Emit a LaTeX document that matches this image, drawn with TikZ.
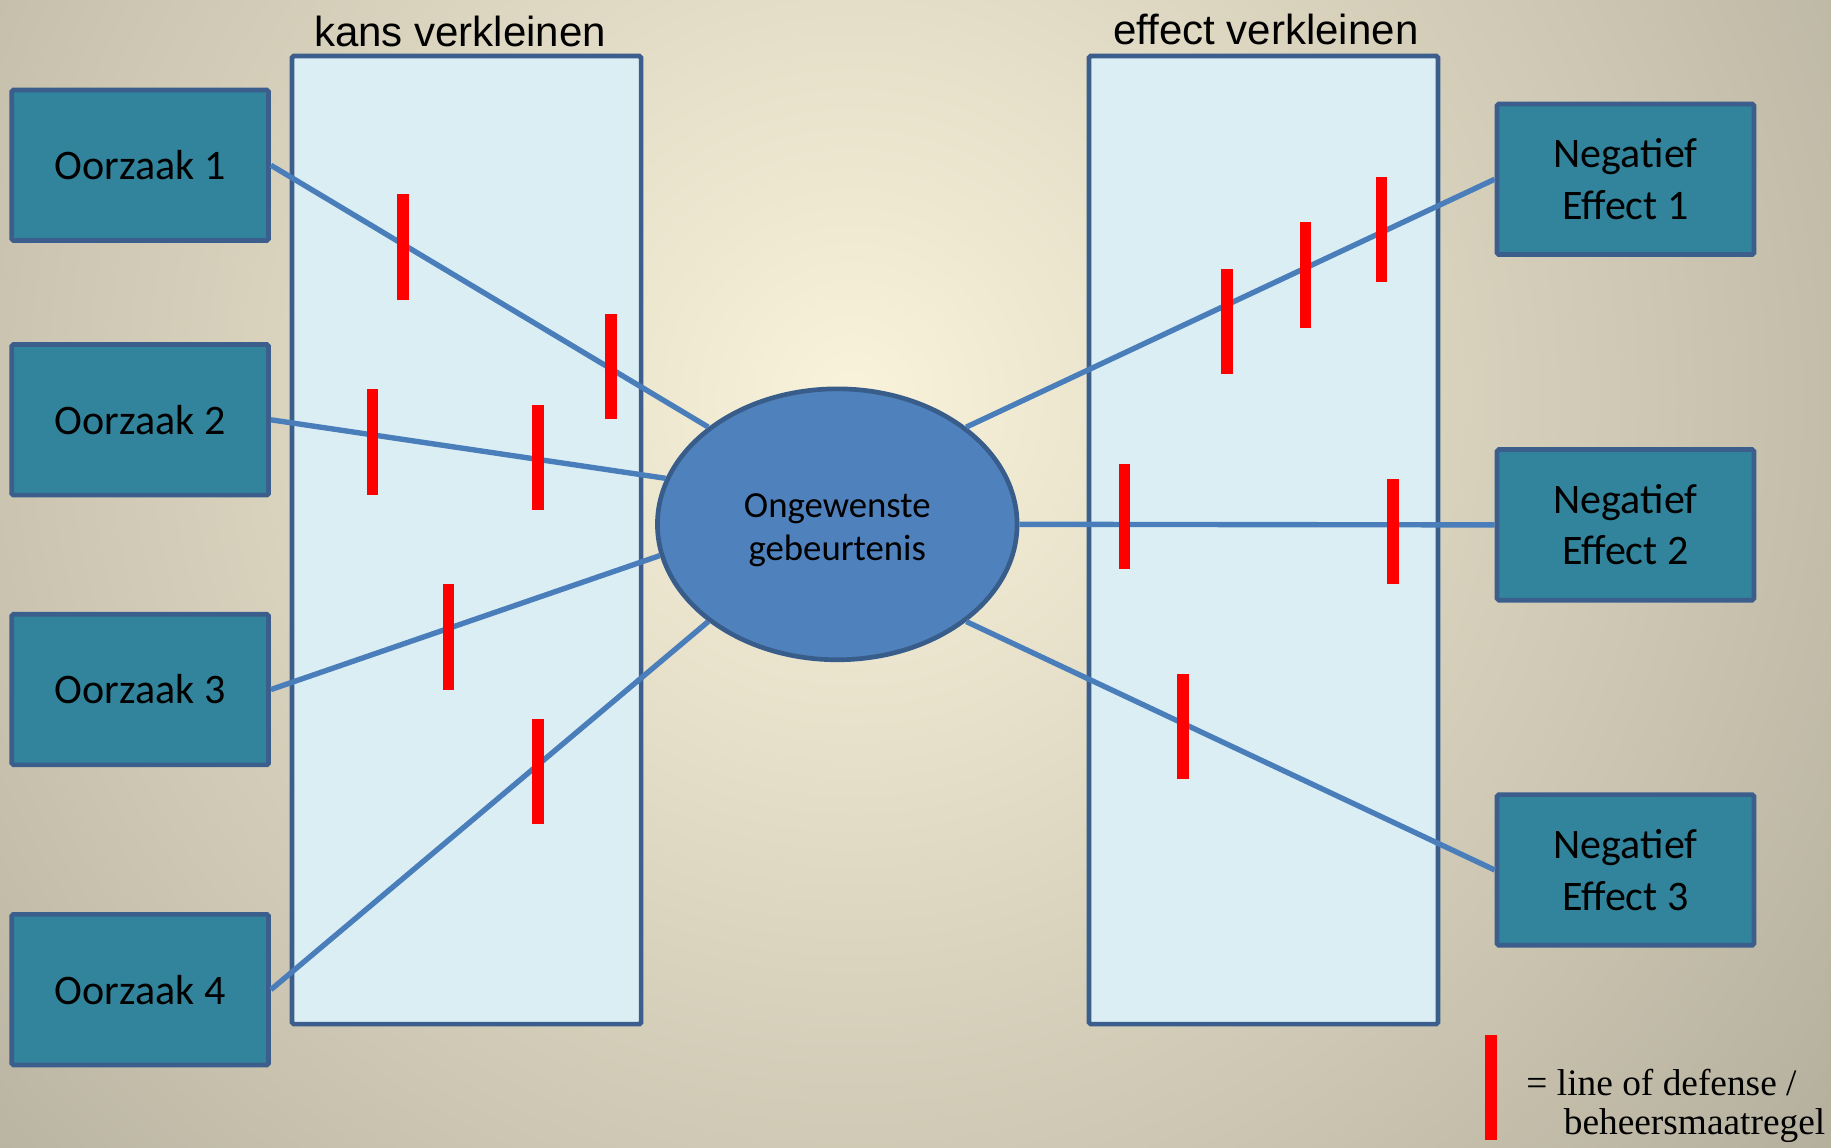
\documentclass[tikz,border=0pt]{standalone}
\usepackage{fontspec}
\setmainfont{Carlito}
\newfontfamily\titlefont{Liberation Sans}
\newfontfamily\legendfont{Liberation Serif}
\usepackage{tikz}
\usetikzlibrary{shapes.geometric}
\definecolor{bgin}{HTML}{FAF3DB}
\definecolor{bgout}{HTML}{948F80}
\definecolor{causecol}{HTML}{31849B}
\definecolor{edgecol}{HTML}{3B5E8C}
\definecolor{zonecol}{HTML}{DBEEF4}
\definecolor{eventcol}{HTML}{4F81BD}
\definecolor{eventedge}{HTML}{385D8A}
\definecolor{linkcol}{HTML}{4A7EBB}
\tikzset{
  cause/.style={draw=edgecol, line width=4pt, rounded corners=1.5pt,
    fill=causecol, text=black, minimum width=220pt, minimum height=129pt,
    inner sep=0pt, align=center, font=\fontsize{36}{44}\selectfont},
  zone/.style={draw=edgecol, line width=4pt, rounded corners=1.5pt,
    fill=zonecol, minimum width=299pt, minimum height=829pt, inner sep=0pt},
  zonetitle/.style={anchor=base, inner sep=0pt, text=black,
    font=\titlefont\fontsize{36}{40}\selectfont},
  event/.style={ellipse, draw=eventedge, line width=4pt, fill=eventcol,
    minimum width=308pt, minimum height=232pt, inner sep=0pt, align=center,
    text=black, font=\fontsize{31.5}{37}\selectfont},
  link/.style={draw=linkcol, line width=4.6pt},
  barrier/.style={fill=red, minimum width=10pt, minimum height=90pt,
    inner sep=0pt, outer sep=0pt},
  legend/.style={align=left, inner sep=0pt, text=black,
    font=\legendfont\fontsize{32}{34}\selectfont}}

\begin{document}
\begin{tikzpicture}[x=1pt, y=-1pt]
    \useasboundingbox (0,0) rectangle (1568,983);
    % background glow
    \begin{scope}
      \clip (0,0) rectangle (1568,983);
      \shade[inner color=bgin, outer color=bgout] (730,340) circle (1550);
    \end{scope}

    \node[zone] (kans)   at (399.5,462.5) {};
    \node[zone] (effect) at (1082,462.5) {};
    \node[zonetitle] (kanstitle)   at (394,40) {kans verkleinen};
    \node[zonetitle] (effecttitle) at (1084,38) {effect verkleinen};

    \node[event] (event) at (717,449)
      {\rule{0pt}{30pt}Ongewenste\\gebeurtenis};

    \node[cause] (c1) at (120,141.5) {Oorzaak 1};
    \node[cause] (c2) at (120,359.5) {Oorzaak 2};
    \node[cause] (c3) at (120,590.5) {Oorzaak 3};
    \node[cause] (c4) at (120,847.5) {Oorzaak 4};

    \node[cause] (e1) at (1392,153.5) {Negatief\\Effect 1};
    \node[cause] (e2) at (1392,449.5) {Negatief\\Effect 2};
    \node[cause] (e3) at (1392,745) {Negatief\\Effect 3};

    \draw[link] (c1.east) -- (event.143);
    \draw[link] (c2.east) -- (event.165);
    \draw[link] (c3.east) -- (event.190);
    \draw[link] (c4.east) -- (event.217);
    \draw[link] (event.37)  -- (e1.west);
    \draw[link] (event.0)   -- (e2.west);
    \draw[link] (event.323) -- (e3.west);

    % lines of defense
    \foreach \x/\y [count=\i] in {345/211.5, 523/313.5, 319/378.5, 461/391.5,
        384/545.5, 461/660.5, 1051/275.5, 1118/235.5, 1183/196.5,
        963/442.5, 1193/455.5, 1013/622.5}
      \node[barrier] (bar\i) at (\x,\y) {};

    \node[barrier] (legbar) at (1277,931) {};
    \node[legend, anchor=north west] (legtext) at (1307,915)
      {= line of defense /\\\hspace{1em}beheersmaatregel};
\end{tikzpicture}
\end{document}
